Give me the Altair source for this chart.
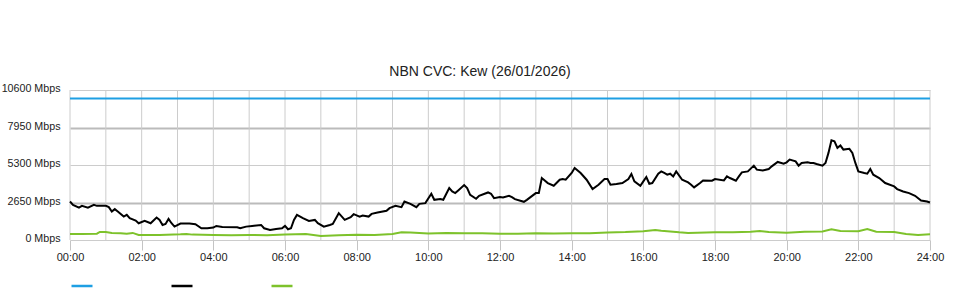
import altair as alt
import pandas as pd

FONT = "Liberation Sans"
TITLE = "NBN CVC: Kew (26/01/2026)"

# Download traffic (black): minutes after midnight, Mbps
traffic_minutes = [0, 5, 15, 20, 30, 40, 45, 60, 65, 70, 75, 80, 90, 95, 100, 110, 115, 125,
                   135, 145, 150, 155, 160, 165, 170, 175, 185, 200, 210, 220, 230, 240, 245,
                   255, 280, 285, 295, 305, 320, 325, 335, 345, 355, 360, 365, 370, 375, 380,
                   390, 400, 410, 415, 425, 435, 440, 450, 460, 470, 475, 485, 490, 500, 505,
                   515, 530, 535, 545, 555, 560, 570, 580, 585, 595, 605, 610, 620, 625, 635,
                   640, 645, 650, 660, 665, 670, 680, 685, 700, 705, 710, 720, 725, 735, 740,
                   745, 760, 765, 780, 785, 790, 800, 810, 820, 825, 830, 840, 845, 855, 865,
                   875, 885, 895, 900, 905, 915, 925, 935, 940, 945, 955, 960, 965, 970, 975,
                   985, 990, 995, 1000, 1005, 1010, 1015, 1025, 1035, 1040, 1045, 1055, 1060,
                   1075, 1080, 1095, 1100, 1105, 1115, 1120, 1125, 1135, 1145, 1150, 1160,
                   1170, 1175, 1185, 1195, 1200, 1205, 1215, 1220, 1225, 1235, 1240, 1245,
                   1250, 1260, 1265, 1270, 1275, 1280, 1285, 1290, 1295, 1305, 1310, 1315,
                   1320, 1330, 1335, 1340, 1345, 1355, 1365, 1380, 1385, 1395, 1405, 1415,
                   1425, 1435, 1440]
traffic_mbps = [2720, 2485, 2290, 2415, 2290, 2485, 2415, 2415, 2320, 2010, 2180, 2010, 1655,
                1775, 1540, 1370, 1185, 1350, 1185, 1585, 1420, 1065, 1135, 1490, 1185, 945,
                1160, 1160, 1115, 830, 830, 875, 995, 925, 900, 830, 945, 995, 1065, 830, 710,
                780, 830, 995, 760, 830, 1420, 1775, 1540, 1350, 1420, 1185, 945, 1065, 1135,
                1895, 1420, 1610, 1825, 1655, 1725, 1655, 1845, 1940, 2060, 2250, 2415, 2320,
                2720, 2555, 2320, 2555, 2605, 3265, 2840, 2890, 2840, 3670, 3430, 3315, 3500,
                3885, 3670, 3195, 2910, 3125, 3360, 3265, 2960, 3030, 3005, 3125, 3030, 2890,
                2700, 2840, 3315, 3315, 4380, 4025, 3835, 4260, 4310, 4260, 4735, 5090, 4735,
                4260, 3600, 3905, 4310, 4310, 3905, 3955, 4025, 4310, 4665, 4140, 3835, 4140,
                4450, 3975, 4025, 4685, 4850, 4735, 4615, 4685, 4495, 4850, 4260, 4070, 3905,
                3715, 4025, 4210, 4190, 4310, 4210, 4495, 4380, 4190, 4495, 4780, 4850, 5255,
                4970, 4920, 5020, 5205, 5515, 5395, 5490, 5680, 5560, 5255, 5445, 5490, 5445,
                5445, 5375, 5255, 5445, 6155, 7050, 6980, 6510, 6675, 6390, 6440, 6155, 5445,
                4850, 4735, 4685, 5020, 4615, 4380, 4025, 3785, 3600, 3430, 3315, 3125, 2790,
                2720, 2650]

# Upload traffic (green): minutes after midnight, Mbps
upload_minutes = [0, 20, 45, 50, 60, 70, 85, 95, 105, 115, 150, 185, 195, 205, 240, 270, 300,
                  330, 360, 395, 420, 450, 480, 510, 540, 555, 570, 600, 630, 660, 690, 720,
                  750, 780, 810, 840, 870, 900, 930, 960, 980, 990, 1020, 1035, 1050, 1080,
                  1110, 1140, 1155, 1170, 1200, 1230, 1260, 1275, 1290, 1320, 1335, 1350, 1380,
                  1400, 1420, 1440]
upload_mbps = [430, 430, 450, 570, 570, 500, 475, 440, 500, 355, 355, 400, 430, 380, 355, 340,
               360, 330, 380, 420, 290, 330, 370, 360, 430, 545, 530, 460, 500, 470, 480, 450,
               440, 480, 460, 470, 480, 530, 560, 620, 710, 660, 540, 500, 520, 545, 540, 580,
               640, 560, 520, 590, 600, 760, 640, 620, 780, 590, 570, 425, 355, 400]

# CVC capacity (blue)
capacity_mbps = 10000

series_names = ["CVC Capacity", "Download", "Upload"]
series_colors = ["#1E9FE3", "#000000", "#7DC22B"]
x_tick_hours = list(range(0, 25, 2))
grid_hours = list(range(0, 25))
y_ticks = [0, 2650, 5300, 7950, 10600]

rows = [{"hour": 0, "mbps": capacity_mbps, "series": series_names[0]},
        {"hour": 24, "mbps": capacity_mbps, "series": series_names[0]}]
rows += [{"hour": m / 60, "mbps": v, "series": series_names[1]}
         for m, v in zip(traffic_minutes, traffic_mbps)]
rows += [{"hour": m / 60, "mbps": v, "series": series_names[2]}
         for m, v in zip(upload_minutes, upload_mbps)]
df = pd.DataFrame(rows)
grid_df = pd.DataFrame({"hour": grid_hours})

x_scale = alt.Scale(domain=[0, 24], nice=False, zero=False)
x_axis = alt.Axis(values=x_tick_hours,
                  labelExpr="(datum.value < 10 ? '0' : '') + datum.value + ':00'",
                  grid=False, domain=False, ticks=True, tickSize=10, tickColor="#c4c4c4",
                  labelPadding=1, labelFontSize=11, labelFont=FONT, labelColor="#222222",
                  labelFlush=False, labelOverlap=False, title=None)

grid = alt.Chart(grid_df).mark_rule(color="#cccccc", strokeWidth=1).encode(
    x=alt.X("hour:Q", scale=x_scale, axis=x_axis)
)

lines = alt.Chart(df).mark_line(strokeWidth=2).encode(
    x=alt.X("hour:Q", scale=x_scale, axis=x_axis),
    y=alt.Y("mbps:Q", scale=alt.Scale(domain=[0, 10600], nice=False),
            axis=alt.Axis(values=y_ticks, labelExpr="datum.value + ' Mbps'",
                          grid=True,
                          gridColor={"condition": {"test": "datum.value == 2650 || datum.value == 7950",
                                                   "value": "#bbbbbb"}, "value": "#cccccc"},
                          gridWidth={"condition": {"test": "datum.value == 2650 || datum.value == 7950",
                                                   "value": 2}, "value": 1},
                          domain=False, ticks=False, labelPadding=10, labelFontSize=10.7,
                          labelFont=FONT, labelColor="#222222", labelOffset=-1.5, title=None)),
    color=alt.Color("series:N", scale=alt.Scale(domain=series_names, range=series_colors),
                    legend=alt.Legend(orient="none", legendX=0, legendY=184,
                                      direction="horizontal", symbolType="stroke",
                                      symbolSize=441, symbolStrokeWidth=2.5,
                                      labelExpr="''", labelOffset=0, columnPadding=68,
                                      padding=0, title=None)),
    order=alt.Order("hour:Q"),
)

chart = alt.layer(grid, lines).properties(
    width=860, height=150,
    padding={"left": 70, "top": 90, "right": 30, "bottom": 60},
    autosize=alt.AutoSizeParams(type="none"),
    background="white",
    title=alt.TitleParams(TITLE, font=FONT, fontSize=14, fontWeight="normal",
                          color="#222222", anchor="middle", frame="group", dx=-20,
                          offset=4),
).configure_view(stroke=None)

chart.save("out.html", embed_options={"renderer": "svg", "actions": False})
